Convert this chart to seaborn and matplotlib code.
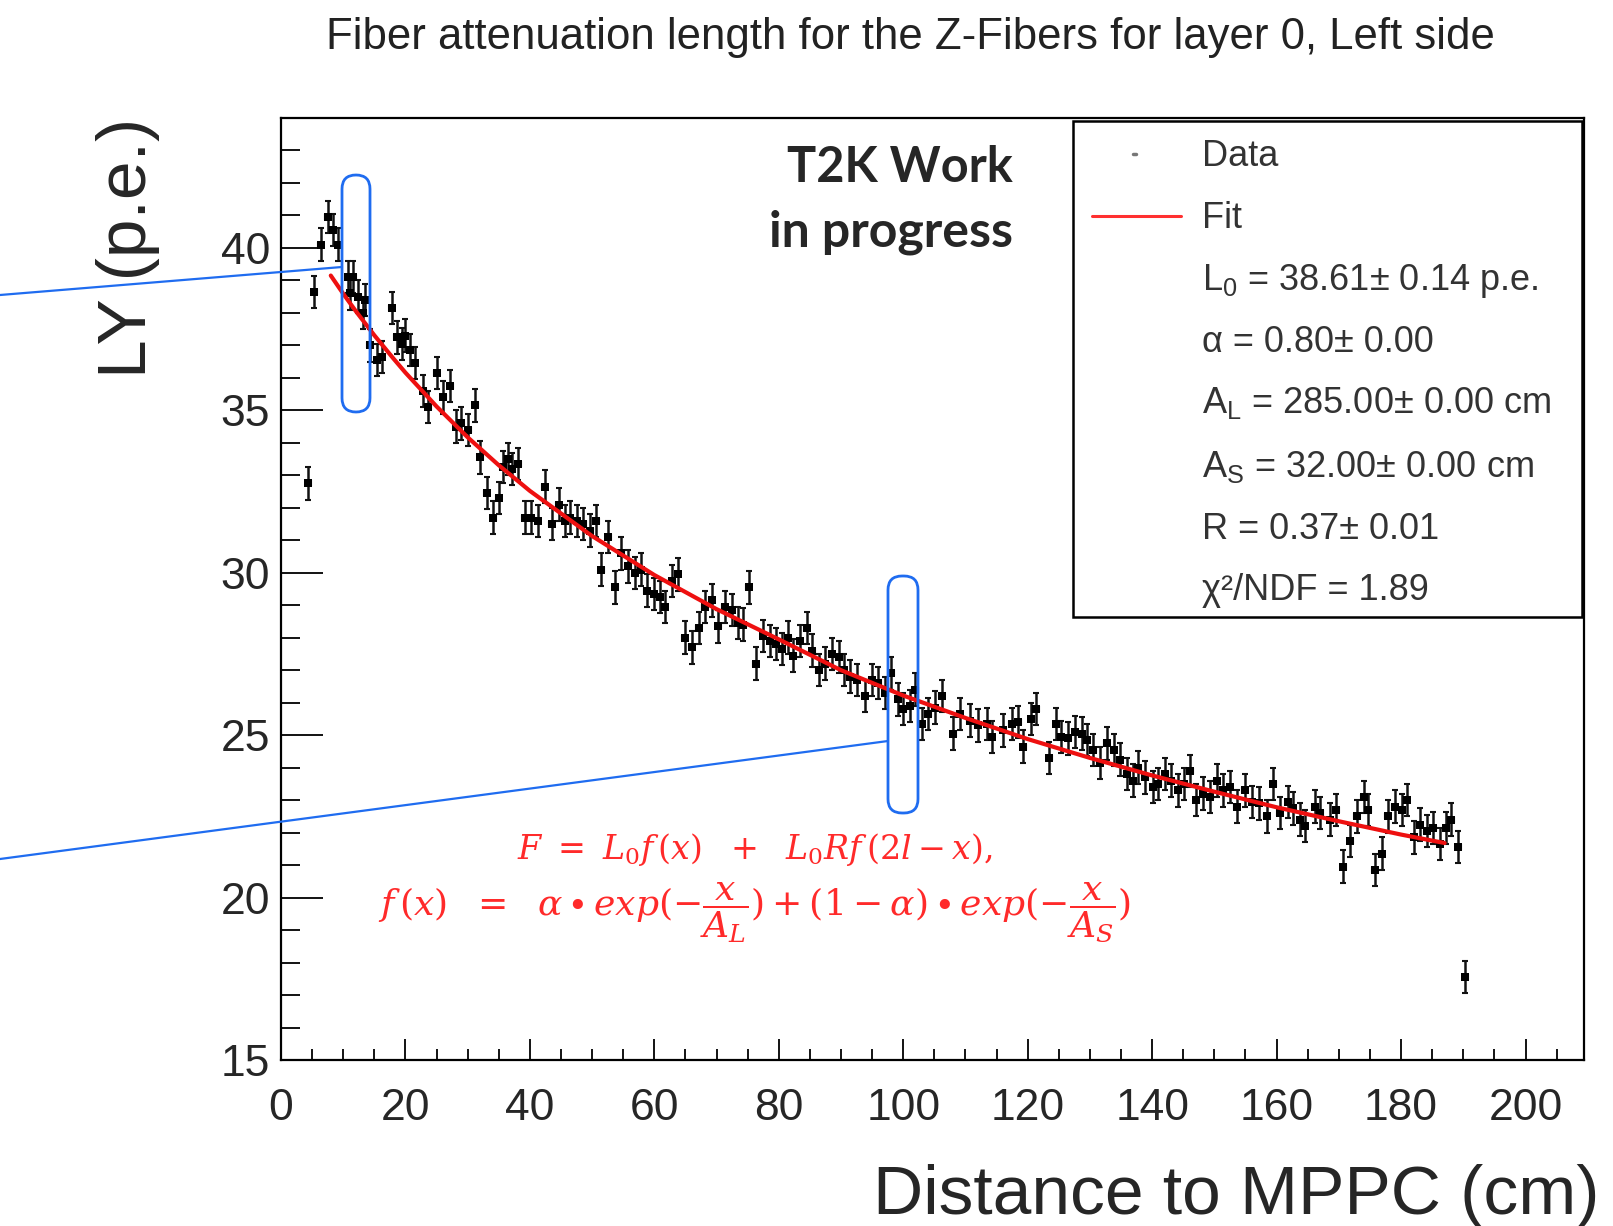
import matplotlib
matplotlib.use("Agg")
import matplotlib.pyplot as plt
import seaborn as sns
from matplotlib.patches import FancyBboxPatch, Rectangle
from matplotlib.lines import Line2D
from matplotlib.transforms import Affine2D

# light yield along the Z-fiber, layer 0 left side
distance = [4.4, 5.35, 6.4, 7.5, 8.4, 9.2, 10.8, 11.1, 11.6, 12.4,
            13.2, 13.5, 14.3, 15.4, 16.2, 17.8, 18.6, 19.4, 19.9, 20.7,
            21.5, 22.9, 23.7, 25.0, 26.1, 27.2, 28.2, 29.0, 30.1, 31.2,
            32.0, 33.1, 34.1, 35.0, 35.6, 36.4, 37.2, 38.1, 39.2, 40.2,
            41.3, 42.4, 43.5, 44.6, 45.7, 46.4, 47.5, 48.6, 49.7, 50.7,
            51.5, 52.6, 53.7, 54.7, 55.8, 56.9, 57.9, 58.8, 59.9, 60.9,
            61.7, 62.8, 63.8, 64.9, 66.0, 67.1, 68.1, 69.2, 70.3, 71.3,
            72.4, 73.5, 74.3, 75.2, 76.3, 77.5, 78.6, 79.6, 80.5, 81.5,
            82.3, 83.4, 84.5, 85.4, 86.4, 87.5, 88.5, 89.6, 90.4, 91.4,
            92.5, 93.8, 94.9, 96.0, 97.1, 98.1, 99.2, 100.0, 101.1, 101.9,
            103.0, 104.0, 105.1, 106.2, 108.0, 109.1, 110.7, 112.0, 113.4, 114.2,
            116.1, 117.4, 118.5, 119.3, 120.6, 121.4, 123.5, 124.6, 125.4, 126.5,
            127.6, 128.7, 129.5, 130.5, 131.6, 132.7, 133.8, 134.8, 135.9, 137.0,
            137.8, 138.9, 140.2, 141.0, 142.1, 143.1, 144.2, 145.1, 146.1, 147.1,
            148.2, 149.3, 150.4, 151.4, 152.5, 153.6, 154.9, 156.0, 157.1, 158.4,
            159.5, 160.5, 161.9, 162.6, 163.8, 164.5, 166.2, 167.0, 168.6, 169.6,
            170.7, 171.8, 172.9, 174.0, 174.7, 175.8, 176.9, 177.9, 179.0, 180.1,
            180.9, 182.0, 183.0, 184.1, 185.2, 186.2, 187.3, 188.1, 189.2, 190.3]
light_yield = [32.75, 38.65, 40.1, 40.95, 40.55, 40.1, 39.1, 38.6, 39.1, 38.5,
               38.0, 38.4, 37.0, 36.55, 36.65, 38.15, 37.25, 37.05, 37.3, 36.85,
               36.45, 35.6, 35.1, 36.15, 35.4, 35.75, 34.5, 34.6, 34.4, 35.15,
               33.55, 32.45, 31.7, 32.3, 33.25, 33.5, 33.2, 33.35, 31.7, 31.7,
               31.6, 32.65, 31.5, 32.1, 31.6, 31.7, 31.6, 31.5, 31.3, 31.6,
               30.1, 31.1, 29.55, 30.6, 30.2, 30.0, 30.1, 29.45, 29.35, 29.25,
               28.95, 29.75, 29.95, 28.0, 27.7, 28.3, 28.95, 29.15, 28.35, 28.95,
               28.85, 28.45, 28.4, 29.55, 27.2, 28.05, 27.9, 27.8, 27.65, 28.0,
               27.45, 27.9, 28.3, 27.6, 27.0, 27.2, 27.5, 27.4, 27.0, 26.8,
               26.7, 26.2, 26.7, 26.6, 26.3, 26.9, 26.1, 25.8, 25.9, 26.4,
               25.35, 25.65, 25.85, 26.2, 25.05, 25.65, 25.45, 25.3, 25.35, 24.95,
               25.15, 25.35, 25.4, 24.65, 25.5, 25.8, 24.3, 25.35, 24.95, 24.9,
               25.1, 25.05, 24.85, 24.55, 24.15, 24.75, 24.55, 24.25, 23.8, 23.6,
               24.0, 23.7, 23.4, 23.5, 23.8, 23.6, 23.3, 23.5, 23.9, 23.0,
               23.2, 23.1, 23.6, 23.3, 23.4, 22.8, 23.3, 22.95, 22.9, 22.5,
               23.5, 22.6, 22.95, 22.75, 22.4, 22.2, 22.8, 22.6, 22.4, 22.7,
               20.95, 21.75, 22.5, 23.1, 22.7, 20.85, 21.35, 22.5, 22.8, 22.7,
               23.0, 21.85, 22.25, 22.05, 22.15, 21.65, 22.15, 22.4, 21.55, 17.55]
ly_err = 0.5
dist_err = 0.4

# fitted curve as drawn
fit_x = [8, 10, 12, 15, 18, 20, 25, 30, 35, 40, 50, 60, 70, 80, 90,
         100, 110, 120, 130, 140, 150, 160, 170, 180, 187]
fit_y = [39.15, 38.59, 38.06, 37.31, 36.61, 36.16, 35.12, 34.17, 33.31, 32.52,
         31.13, 29.93, 28.88, 27.95, 27.0, 26.22, 25.53, 24.88, 24.3, 23.76,
         23.26, 22.78, 22.35, 21.94, 21.68]

x_ticks = [0, 20, 40, 60, 80, 100, 120, 140, 160, 180, 200]
y_ticks = [15, 20, 25, 30, 35, 40]

fit_params = [r"$\mathregular{L_0}$ = 38.61± 0.14 p.e.",
              "α = 0.80± 0.00",
              r"$\mathregular{A_L}$ = 285.00± 0.00 cm",
              r"$\mathregular{A_S}$ = 32.00± 0.00 cm",
              "R = 0.37± 0.01",
              "χ²/NDF = 1.89"]

sns.set_theme(style="ticks")
plt.rcParams['font.family'] = ['Liberation Sans', 'DejaVu Sans']

fig = plt.figure(figsize=(16.13, 12.26), dpi=100)
ax = fig.add_axes([0.17421, 0.13540, 0.80781, 0.76835])
# pixel coords measured from the top-left corner of the picture
px = Affine2D().scale(0.01, -0.01).translate(0, 12.26) + fig.dpi_scale_trans

ax.errorbar(distance, light_yield, xerr=dist_err, yerr=ly_err, fmt='none',
            ecolor='#111111', elinewidth=1.8, capsize=2.0, capthick=1.5, zorder=2)
sns.scatterplot(x=distance, y=light_yield, ax=ax, marker='s', s=26,
                color='black', linewidth=0, zorder=3)
sns.lineplot(x=fit_x, y=fit_y, ax=ax, color='#ee1010', linewidth=3.0,
             sort=True, zorder=4)

ax.set_xlim(0, 209.4)
ax.set_ylim(15, 44)
ax.set_xticks(x_ticks)
ax.set_yticks(y_ticks)
ax.xaxis.set_minor_locator(matplotlib.ticker.MultipleLocator(5))
ax.yaxis.set_minor_locator(matplotlib.ticker.MultipleLocator(1))
ax.tick_params(axis='both', which='both', direction='in', color='black',
               width=1.3, top=False, right=False)
ax.tick_params(axis='y', which='major', length=30, labelsize=32, pad=8)
ax.tick_params(axis='y', which='minor', length=14)
ax.tick_params(axis='x', which='major', length=15, labelsize=32, pad=20)
ax.tick_params(axis='x', which='minor', length=8)
for s in ax.spines.values():
    s.set_linewidth(1.6)
    s.set_color('black')

ax.set_ylabel("LY (p.e.)", fontsize=50, loc='top')
ax.yaxis.set_label_coords(-0.093, 1.0)
ax.set_xlabel("Distance to MPPC (cm)", fontsize=50, loc='right')
ax.xaxis.set_label_coords(1.012, -0.11)

fig.text(910, 37, "Fiber attenuation length for the Z-Fibers for layer 0, Left side",
         transform=px, ha='center', va='center', fontsize=31.5, color='#222222')

fig.text(1013, 167, "T2K Work", transform=px, ha='right', va='center',
         fontsize=35, fontweight='bold', family=['Lato', 'DejaVu Sans'])
fig.text(1013, 232, "in progress", transform=px, ha='right', va='center',
         fontsize=36, fontweight='bold', family=['Lato', 'DejaVu Sans'])

# fit model written on the slide
red = '#ff2a2a'
fig.text(755, 849, r"$F\ =\ L_0 f\,(x)\ \ +\ \ L_0 R f\,(2l - x),$", transform=px,
         ha='center', va='center', fontsize=24, color=red,
         math_fontfamily='dejavuserif')
fig.text(755, 912,
         r"$f\,(x)\ \ =\ \ \alpha \bullet exp(-\dfrac{x}{A_L}) + (1 - \alpha) \bullet exp(-\dfrac{x}{A_S})$",
         transform=px, ha='center', va='center', fontsize=26, color=red,
         math_fontfamily='dejavuserif')

# stats box
fig.add_artist(Rectangle((1073, 121), 509, 496, transform=px, fill=True,
                         facecolor='white', edgecolor='black', linewidth=1.8, zorder=5))
row_y = [154, 216, 278, 340, 401, 465, 527, 588]
labels = ["Data", "Fit"] + fit_params
for yy, lab in zip(row_y, labels):
    fig.text(1202, yy + 12, lab, transform=px, ha='left', va='baseline',
             fontsize=26, color='#333333', zorder=6)
fig.add_artist(Line2D([1133, 1136], [154, 154], transform=px, color='#777777',
                      linewidth=2.5, zorder=6))
fig.add_artist(Line2D([1092, 1181], [216, 216], transform=px, color='#ff3030',
                      linewidth=2.2, zorder=6))

# blue highlight boxes and guide lines
blue = '#1f6cf0'
for (x0, y0, w, h) in [(342, 175, 28, 237), (888, 576, 30, 237)]:
    fig.add_artist(FancyBboxPatch((x0, y0), w, h, transform=px,
                                  boxstyle="round,pad=0,rounding_size=14",
                                  fill=False, edgecolor=blue, linewidth=2.0, zorder=7))
fig.add_artist(Line2D([0, 342], [295, 267], transform=px, color=blue, linewidth=1.6, zorder=7))
fig.add_artist(Line2D([0, 888], [859, 741], transform=px, color=blue, linewidth=1.6, zorder=7))

plt.savefig('out.png', dpi=100)
